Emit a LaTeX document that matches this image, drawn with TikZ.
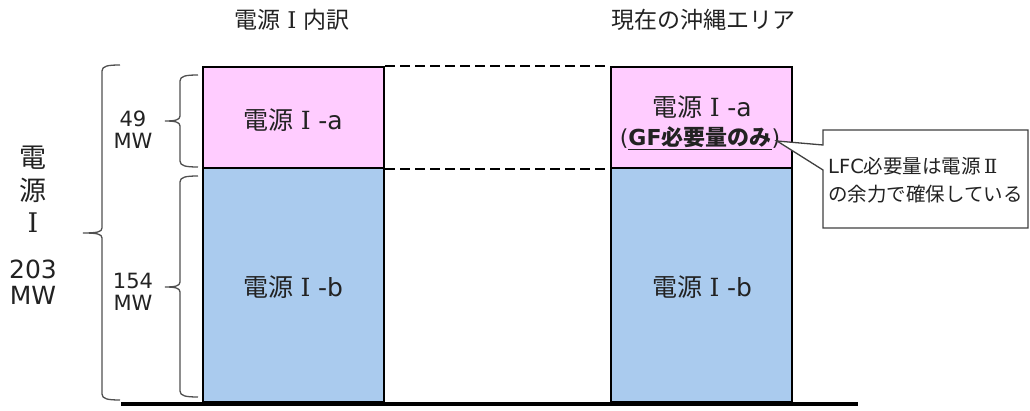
\documentclass[tikz,border=0pt]{standalone}
\usepackage{fontspec}
\setmainfont{Noto Sans CJK JP}
\newfontfamily\lat{DejaVu Sans}
\newfontfamily\rom{DejaVu Serif}
\newcommand{\romI}{\makebox[1em]{\rom Ⅰ}}
\newcommand{\romII}{\makebox[1em]{\rom Ⅱ}}
\definecolor{pinkfill}{HTML}{FFCCFF}
\definecolor{bluefill}{HTML}{AACBEE}
\definecolor{txt}{HTML}{222222}
\definecolor{brc}{HTML}{505050}
\definecolor{callbd}{HTML}{404040}
\newcommand{\drawbrace}[5]{% x, top, bottom, tipy, tipx
  \draw[bracestyle] (#1+18,#2) .. controls (#1+6,#2) and (#1,#2+1) .. (#1,#2+6)
    -- (#1,#4-5) .. controls (#1,#4-1) and (#1-5,#4) .. (#5,#4)
    .. controls (#1-5,#4) and (#1,#4+1) .. (#1,#4+5)
    -- (#1,#3-6) .. controls (#1,#3-1) and (#1+6,#3) .. (#1+18,#3);}
\begin{document}
\begin{tikzpicture}[x=1pt,y=-1pt,
  barbox/.style={draw=black, line width=2.5pt, fill=#1, inner sep=0pt},
  dashline/.style={line width=2pt, dash pattern=on 10pt off 5pt},
  bracestyle/.style={draw=brc, line width=1.3pt},
  boxtext/.style={font=\fontsize{25}{29}\selectfont, text=txt, inner sep=0pt},
  sidetext/.style={font=\lat\fontsize{21}{25}\selectfont, text=txt, inner sep=0pt, align=center},
  calltext/.style={font=\fontsize{19.5}{28}\selectfont, text=txt, inner sep=0pt, align=left}]
\useasboundingbox (0,0) rectangle (1030,411);
% titles
\node[boxtext, font=\fontsize{23}{27}\selectfont] (t1) at (292,20) {電源\romI 内訳};
\node[boxtext, font=\fontsize{23}{27}\selectfont] (t2) at (703,20) {現在の沖縄エリア};
% boxes
\node[barbox=pinkfill, minimum width=181pt, minimum height=101pt] (la) at (293.5,117.5) {};
\node[barbox=bluefill, minimum width=181pt, minimum height=234pt] (lb) at (293.5,285) {};
\node[barbox=pinkfill, minimum width=181pt, minimum height=101pt] (ra) at (701.5,117.5) {};
\node[barbox=bluefill, minimum width=181pt, minimum height=234pt] (rb) at (701.5,285) {};
% box texts
\node[boxtext] (lat) at (293,120) {電源\romI{\lat -a}};
\node[boxtext] (lbt) at (293,287) {電源\romI{\lat -b}};
\node[boxtext] (rat) at (702,107) {電源\romI{\lat -a}};
\node[boxtext, font=\fontsize{22}{26}\selectfont] (rat2) at (700,138) {{\lat (}\textbf{\underline{{\lat GF}必要量のみ}}{\lat )}};
\node[boxtext] (rbt) at (702,287) {電源\romI{\lat -b}};
% dashed connectors
\draw[dashline] (la.north east) -- (ra.north west);
\draw[dashline] (la.south east) -- (ra.south west);
% baseline
\coordinate (b1) at (121,404);
\coordinate (b2) at (858,404);
\draw[line width=4pt] (b1) -- (b2);
% braces
\drawbrace{102}{65}{400}{233}{83}
\drawbrace{180}{75}{167}{121}{165}
\drawbrace{180}{176}{397}{287}{165}
% side labels
\node[sidetext] (s49) at (133,130) {49\\[-3pt]MW};
\node[sidetext] (s154) at (133,292) {154\\[-3pt]MW};
\node[boxtext, font=\fontsize{27}{30}\selectfont] (sd1) at (33,158) {電};
\node[boxtext, font=\fontsize{27}{30}\selectfont] (sd2) at (33,190) {源};
\node[boxtext, font=\fontsize{27}{30}\selectfont] (sd3) at (33,223) {\romI};
\node[sidetext, font=\lat\fontsize{25}{29}\selectfont] (s203) at (33,282) {203\\[-3pt]MW};
% callout
\coordinate (tip) at (777,141);
\draw[draw=callbd, line width=1.3pt, fill=white, line join=miter]
  (823,130) -- (1028,130) -- (1028,228) -- (823,228) -- (823,170) -- (tip) -- (823,145) -- cycle;
\node[calltext, anchor=west] (ct) at (828,180) {{\lat LFC}必要量は電源\romII\\の余力で確保している};
\end{tikzpicture}
\end{document}
